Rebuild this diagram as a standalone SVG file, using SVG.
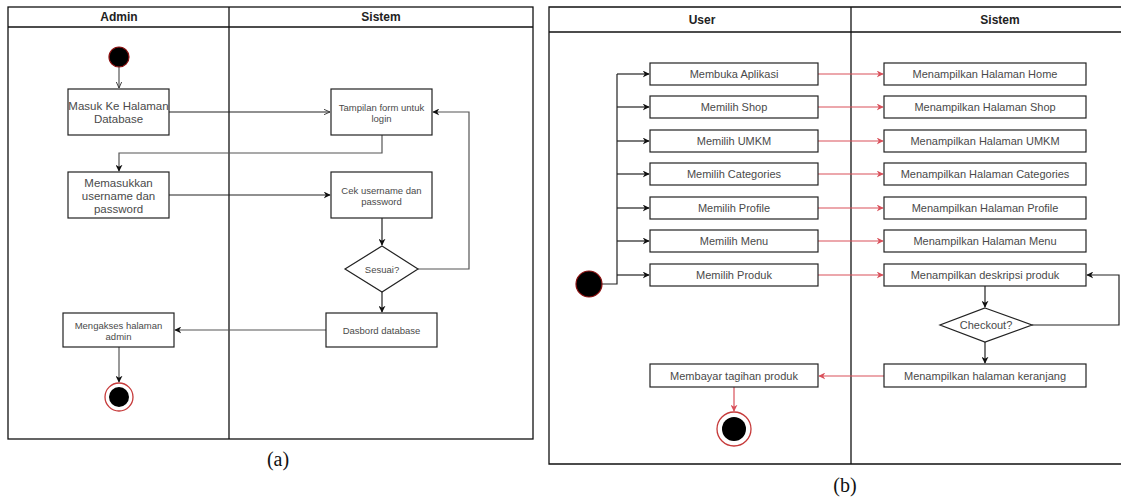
<svg xmlns="http://www.w3.org/2000/svg" width="1121" height="498" viewBox="0 0 1121 498">
  <style>
    .frame { fill: none; stroke: #111; stroke-width: 1.3; }
    .box { fill: #fff; stroke: #222; stroke-width: 1.2; }
    .head { font-family: "Liberation Sans", Arial, sans-serif; font-weight: bold; font-size: 12px; fill: #222; text-anchor: middle; }
    .t { font-family: "Liberation Sans", Arial, sans-serif; fill: #4a4a4a; text-anchor: middle; }
    .ta { font-size: 11.5px; }
    .ts { font-size: 9.5px; }
    .tb { font-size: 11px; }
    .cap { font-family: "Liberation Serif", "Times New Roman", serif; font-size: 20px; fill: #111; text-anchor: middle; }
    .ln { fill: none; stroke: #222; stroke-width: 1.2; }
    .gr { fill: none; stroke: #555; stroke-width: 1.2; }
    .rd { fill: none; stroke: #d9505a; stroke-width: 1.2; }
    .start { fill: #000; stroke: #8b1010; stroke-width: 1.2; }
    .endo { fill: #fff; stroke: #c63a3a; stroke-width: 1.3; }
    .endi { fill: #000; }
  </style>
  <defs>
    <marker id="ab" viewBox="0 0 10 10" refX="9" refY="5" markerWidth="7" markerHeight="7" orient="auto" markerUnits="userSpaceOnUse">
      <path d="M0,0 L10,5 L0,10 L3,5 Z" fill="#111"/>
    </marker>
    <marker id="ar" viewBox="0 0 10 10" refX="9" refY="5" markerWidth="7" markerHeight="7" orient="auto" markerUnits="userSpaceOnUse">
      <path d="M0,0 L10,5 L0,10 L3,5 Z" fill="#d9505a"/>
    </marker>
    <marker id="ao" viewBox="0 0 10 10" refX="9" refY="5" markerWidth="7" markerHeight="7" orient="auto" markerUnits="userSpaceOnUse">
      <path d="M0,1 L9,5 L0,9" fill="none" stroke="#333" stroke-width="1.3"/>
    </marker>
  </defs>

  <rect width="1121" height="498" fill="#fff"/>

  <!-- Swimlane frame (a) -->
  <g id="lanes-a">
    <rect class="frame" x="8" y="7" width="525" height="432"/>
    <line class="frame" x1="8" y1="27" x2="533" y2="27"/>
    <line class="frame" x1="229" y1="7" x2="229" y2="439"/>
    <text class="head" x="119" y="21">Admin</text>
    <text class="head" x="381" y="21">Sistem</text>
  </g>

  <!-- Swimlane frame (b) -->
  <g id="lanes-b">
    <path class="frame" d="M1123,7 H549 V464 H1123"/>
    <line class="frame" x1="549" y1="32" x2="1123" y2="32"/>
    <line class="frame" x1="851" y1="7" x2="851" y2="464"/>
    <text class="head" x="702" y="24">User</text>
    <text class="head" x="1000" y="24">Sistem</text>
  </g>

  <!-- Connectors -->
  <g id="connectors">
    <!-- (a) -->
    <line class="gr" x1="119" y1="67" x2="119" y2="88" marker-end="url(#ao)"/>
    <line class="ln" x1="169" y1="112" x2="330" y2="112" marker-end="url(#ao)"/>
    <path class="gr" d="M382,135 V153 H119 V171" marker-end="url(#ab)"/>
    <line class="ln" x1="169" y1="195" x2="330" y2="195" marker-end="url(#ab)"/>
    <line class="ln" x1="382" y1="218" x2="382" y2="245" marker-end="url(#ab)"/>
    <path class="gr" d="M418,269 H469 V112 H433" marker-end="url(#ab)"/>
    <line class="ln" x1="382" y1="292" x2="382" y2="312" marker-end="url(#ab)"/>
    <line class="gr" x1="326" y1="330" x2="175" y2="330" marker-end="url(#ab)"/>
    <line class="gr" x1="119" y1="347" x2="119" y2="382" marker-end="url(#ab)"/>

    <!-- (b) fork from start -->
    <path class="ln" d="M602,284 H617 V74"/>
    <line class="ln" x1="617" y1="74" x2="649" y2="74" marker-end="url(#ab)"/>
    <line class="ln" x1="617" y1="107" x2="649" y2="107" marker-end="url(#ab)"/>
    <line class="ln" x1="617" y1="141" x2="649" y2="141" marker-end="url(#ab)"/>
    <line class="ln" x1="617" y1="174" x2="649" y2="174" marker-end="url(#ab)"/>
    <line class="ln" x1="617" y1="208" x2="649" y2="208" marker-end="url(#ab)"/>
    <line class="ln" x1="617" y1="241" x2="649" y2="241" marker-end="url(#ab)"/>
    <line class="ln" x1="617" y1="275" x2="649" y2="275" marker-end="url(#ab)"/>

    <!-- (b) user to system -->
    <line class="rd" x1="818" y1="74" x2="883" y2="74" marker-end="url(#ar)"/>
    <line class="rd" x1="818" y1="107" x2="883" y2="107" marker-end="url(#ar)"/>
    <line class="rd" x1="818" y1="141" x2="883" y2="141" marker-end="url(#ar)"/>
    <line class="rd" x1="818" y1="174" x2="883" y2="174" marker-end="url(#ar)"/>
    <line class="rd" x1="818" y1="208" x2="883" y2="208" marker-end="url(#ar)"/>
    <line class="rd" x1="818" y1="241" x2="883" y2="241" marker-end="url(#ar)"/>
    <line class="rd" x1="818" y1="275" x2="883" y2="275" marker-end="url(#ar)"/>

    <line class="ln" x1="985" y1="286" x2="985" y2="307" marker-end="url(#ab)"/>
    <path class="ln" d="M1032,325 H1119 V275 H1087" marker-end="url(#ab)"/>
    <line class="ln" x1="985" y1="342" x2="985" y2="363" marker-end="url(#ab)"/>
    <line class="rd" x1="884" y1="376" x2="819" y2="376" marker-end="url(#ar)"/>
    <line class="rd" x1="734" y1="387" x2="734" y2="411" marker-end="url(#ar)"/>
  </g>

  <!-- (a) nodes -->
  <g id="a-start"><circle class="start" cx="119" cy="57" r="10"/></g>
  <g id="a-masuk">
    <rect class="box" x="68" y="89" width="101" height="46"/>
    <text class="t ta" x="118.5" y="110">Masuk Ke Halaman</text>
    <text class="t ta" x="118.5" y="123">Database</text>
  </g>
  <g id="a-tampilan">
    <rect class="box" x="331" y="89" width="101" height="46"/>
    <text class="t ts" x="381.5" y="111">Tampilan form untuk</text>
    <text class="t ts" x="381.5" y="122">login</text>
  </g>
  <g id="a-memasukkan">
    <rect class="box" x="68" y="172" width="101" height="46"/>
    <text class="t ta" x="118.5" y="187">Memasukkan</text>
    <text class="t ta" x="118.5" y="200">username dan</text>
    <text class="t ta" x="118.5" y="213">password</text>
  </g>
  <g id="a-cek">
    <rect class="box" x="331" y="172" width="101" height="46"/>
    <text class="t ts" x="381.5" y="194">Cek username dan</text>
    <text class="t ts" x="381.5" y="205">password</text>
  </g>
  <g id="a-sesuai">
    <polygon class="box" points="382,246 418,269 382,292 345,269"/>
    <text class="t ts" x="382" y="272.5">Sesuai?</text>
  </g>
  <g id="a-dasbord">
    <rect class="box" x="326" y="313" width="111" height="34"/>
    <text class="t ts" x="381.5" y="333.5">Dasbord database</text>
  </g>
  <g id="a-mengakses">
    <rect class="box" x="63" y="313" width="111" height="34"/>
    <text class="t ts" x="118.5" y="329">Mengakses halaman</text>
    <text class="t ts" x="118.5" y="340">admin</text>
  </g>
  <g id="a-end">
    <circle class="endo" cx="119" cy="397" r="14"/>
    <circle class="endi" cx="119" cy="397" r="10"/>
  </g>

  <!-- (b) nodes -->
  <g id="b-start"><circle class="start" cx="589" cy="284" r="13"/></g>
  <g id="b-u1"><rect class="box" x="650" y="63" width="168" height="22"/><text class="t tb" x="734" y="78">Membuka Aplikasi</text></g>
  <g id="b-u2"><rect class="box" x="650" y="96" width="168" height="22"/><text class="t tb" x="734" y="111">Memilih Shop</text></g>
  <g id="b-u3"><rect class="box" x="650" y="130" width="168" height="22"/><text class="t tb" x="734" y="145">Memilih UMKM</text></g>
  <g id="b-u4"><rect class="box" x="650" y="163" width="168" height="22"/><text class="t tb" x="734" y="178">Memilih Categories</text></g>
  <g id="b-u5"><rect class="box" x="650" y="197" width="168" height="22"/><text class="t tb" x="734" y="212">Memilih Profile</text></g>
  <g id="b-u6"><rect class="box" x="650" y="230" width="168" height="22"/><text class="t tb" x="734" y="245">Memilih Menu</text></g>
  <g id="b-u7"><rect class="box" x="650" y="264" width="168" height="22"/><text class="t tb" x="734" y="279">Memilih Produk</text></g>

  <g id="b-s1"><rect class="box" x="884" y="63" width="202" height="22"/><text class="t tb" x="985" y="78">Menampilkan Halaman Home</text></g>
  <g id="b-s2"><rect class="box" x="884" y="96" width="202" height="22"/><text class="t tb" x="985" y="111">Menampilkan Halaman Shop</text></g>
  <g id="b-s3"><rect class="box" x="884" y="130" width="202" height="22"/><text class="t tb" x="985" y="145">Menampilkan Halaman UMKM</text></g>
  <g id="b-s4"><rect class="box" x="884" y="163" width="202" height="22"/><text class="t tb" x="985" y="178">Menampilkan Halaman Categories</text></g>
  <g id="b-s5"><rect class="box" x="884" y="197" width="202" height="22"/><text class="t tb" x="985" y="212">Menampilkan Halaman Profile</text></g>
  <g id="b-s6"><rect class="box" x="884" y="230" width="202" height="22"/><text class="t tb" x="985" y="245">Menampilkan Halaman Menu</text></g>
  <g id="b-s7"><rect class="box" x="884" y="264" width="202" height="22"/><text class="t tb" x="985" y="279">Menampilkan deskripsi produk</text></g>

  <g id="b-checkout">
    <polygon class="box" points="985,308 1032,325 985,342 940,325"/>
    <text class="t tb" x="986" y="329">Checkout?</text>
  </g>
  <g id="b-keranjang"><rect class="box" x="884" y="364" width="202" height="23"/><text class="t tb" x="985" y="379.5">Menampilkan halaman keranjang</text></g>
  <g id="b-membayar"><rect class="box" x="650" y="364" width="168" height="23"/><text class="t tb" x="734" y="379.5">Membayar tagihan produk</text></g>
  <g id="b-end">
    <circle class="endo" cx="734" cy="429" r="17"/>
    <circle class="endi" cx="734" cy="429" r="12"/>
  </g>

  <!-- Captions -->
  <text class="cap" x="278" y="466">(a)</text>
  <text class="cap" x="845" y="492">(b)</text>
</svg>
